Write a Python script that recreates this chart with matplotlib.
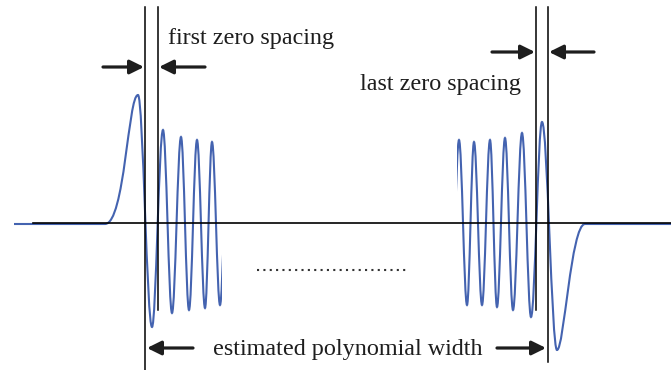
import matplotlib.pyplot as plt
from matplotlib.path import Path
from matplotlib.patches import PathPatch, Rectangle

plt.rcParams['font.family'] = ['Liberation Serif', 'DejaVu Serif']

# turning points of the chirp: time and amplitude
head_t = [14, 105, 138, 152, 163, 172, 181, 189, 197, 205, 212, 220, 228]
head_a = [-0.01, -0.01, 1.28, -1.04, 0.93, -0.90, 0.86, -0.87, 0.83, -0.85, 0.81, -0.82, 0.80]
head_cut = 222

tail_t = [451, 459, 467, 474, 482, 490, 497, 505, 513, 522, 531, 542, 557, 585, 671]
tail_a = [-0.82, 0.83, -0.82, 0.81, -0.82, 0.83, -0.84, 0.85, -0.87, 0.90, -0.94, 1.01, -1.27, -0.01, -0.01]
tail_cut = 457

# zero crossings marked by the vertical guides
zero_marks = [145, 158, 536, 548]

BLUE = '#4463b0'
INK = '#1e1e1e'


def wave_path(ts, amps, shapes=None):
    # cubic bezier between turning points, flat tangent at each one
    shapes = shapes or {}
    verts = [(ts[0], amps[0])]
    codes = [Path.MOVETO]
    for i in range(len(ts) - 1):
        t0, t1 = ts[i], ts[i + 1]
        a0, a1 = amps[i], amps[i + 1]
        f0, f1 = shapes.get(i, (0.3634, 0.3634))
        dt = t1 - t0
        verts += [(t0 + f0 * dt, a0), (t1 - f1 * dt, a1), (t1, a1)]
        codes += [Path.CURVE4] * 3
    return Path(verts, codes)


fig = plt.figure(figsize=(6.71, 3.70), dpi=100)
ax = fig.add_axes([0, 0, 1, 1])
ax.set_xlim(0, 671)
ax.set_ylim(-1.47, 2.23)
ax.axis('off')

# waveform pieces
head = PathPatch(wave_path(head_t, head_a, {1: (0.6, 0.3)}), fill=False,
                 edgecolor=BLUE, lw=1.5, zorder=2)
ax.add_patch(head)
head.set_clip_path(Rectangle((0, -3), head_cut, 6, transform=ax.transData))

tail = PathPatch(wave_path(tail_t, tail_a, {12: (0.25, 0.5)}), fill=False,
                 edgecolor=BLUE, lw=1.5, zorder=2)
ax.add_patch(tail)
tail.set_clip_path(Rectangle((tail_cut, -3), 671 - tail_cut, 6, transform=ax.transData))

# time axis
ax.plot([33, 671], [0, 0], color='black', lw=1.2, zorder=3)

# vertical guides at the zero crossings
guide_low = [-1.47, -0.87, -0.87, -1.39]
for x, lo in zip(zero_marks, guide_low):
    ax.plot([x, x], [2.16, lo], color='black', lw=1.1, zorder=3)

arrow = dict(arrowstyle='-|>,head_length=0.85,head_width=0.42', lw=2.3,
             color=INK, shrinkA=0, shrinkB=0, mutation_scale=10)


def pointer(tail_x, tip_x, y):
    ax.annotate('', xy=(tip_x, y), xytext=(tail_x, y), arrowprops=arrow, zorder=4)


pointer(103, zero_marks[0] - 1, 1.56)
pointer(205, zero_marks[1] + 1, 1.56)
pointer(492, zero_marks[2] - 1, 1.71)
pointer(594, zero_marks[3] + 1, 1.71)
pointer(193, zero_marks[0] + 2, -1.25)
pointer(497, zero_marks[3] - 2, -1.25)

ax.text(168, 1.79, 'first zero spacing', fontsize=17.4, color=INK, va='baseline')
ax.text(360, 1.33, 'last zero spacing', fontsize=17.4, color=INK, va='baseline')
ax.text(213, -1.32, 'estimated polynomial width', fontsize=17.4, color=INK, va='baseline')

# omitted middle of the chirp
ax.plot([257, 406], [-0.47, -0.47], color='#333333', lw=1.5, linestyle=(0, (1, 2.05)))

fig.savefig('out.png', dpi=100)
